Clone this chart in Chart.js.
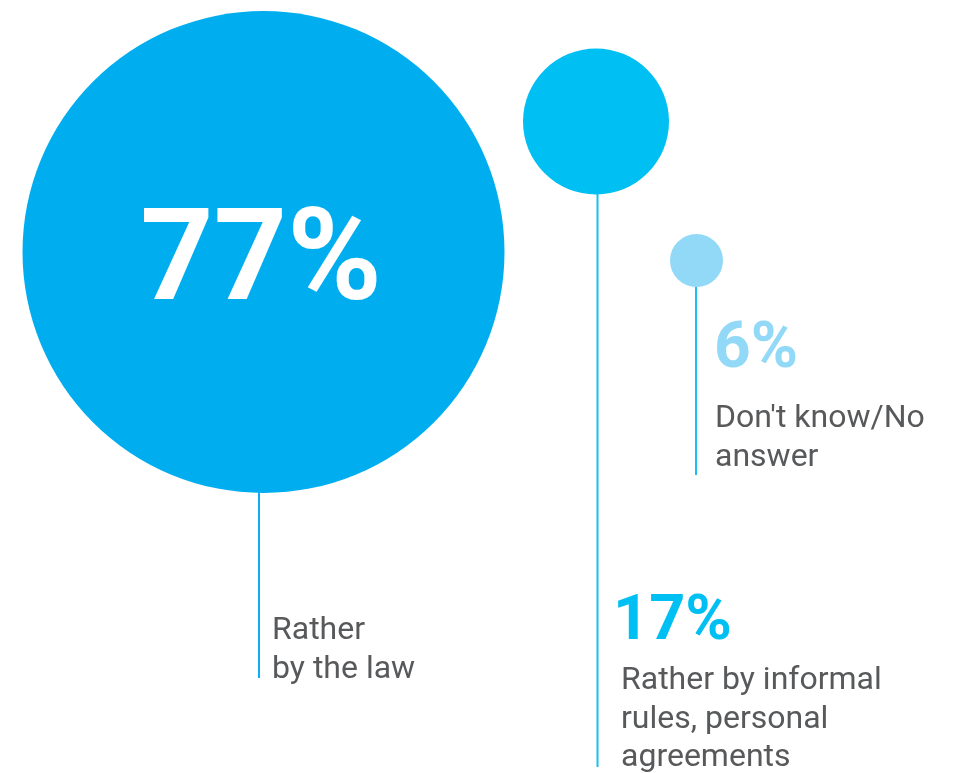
<!DOCTYPE html>
<html>
<head>
<meta charset="utf-8">
<script src="https://cdn.jsdelivr.net/npm/chart.js@4/dist/chart.umd.min.js"></script>
<style>
  html, body { margin: 0; padding: 0; background: #ffffff; }
  #wrap { width: 953px; height: 773px; position: relative; }
</style>
</head>
<body>
<div id="wrap"><canvas id="c" width="953" height="773"></canvas></div>
<script>
// ---- data ----
const categories = ["Rather by the law", "Rather by informal rules, personal agreements", "Don't know/No answer"];
const values = [77, 17, 6];
const labelLines = [["Rather", "by the law"], ["Rather by informal", "rules, personal", "agreements"], ["Don't know/No", "answer"]];

// ---- layout / style (pixel-space on a 953x773 scale) ----
const bubbleCenters = [[263.5, 252], [596, 121.5], [696.5, 260.5]];
const bubbleRadii = [241, 73, 26.5];
const bubbleColors = ["#00AEEF", "#00C0F3", "#92D9F7"];
const stemBottoms = [678, 767, 475];
const stemX = [259, 597.5, 696];
const stemColors = ["#0AB0EF", "#18BFF0", "#18BFF0"];
const pctColors = ["#ffffff", "#00C0F3", "#92D9F7"];
const pctPos = [[261, 299, "center", 128], [613, 639, "left", 63], [714, 367, "left", 64]];
const labelPos = [[272, 639], [621, 689], [715, 427]];
const labelLineHeight = 38.5;
const labelColor = "#58595B";

const stemDatasets = categories.map((c, i) => ({
  type: 'line',
  label: c + ' stem',
  data: [{x: stemX[i], y: bubbleCenters[i][1] + bubbleRadii[i] - 1}, {x: stemX[i], y: stemBottoms[i]}],
  borderColor: stemColors[i],
  borderWidth: 2,
  pointRadius: 0,
  fill: false,
  order: 2
}));

const bubbleDataset = {
  type: 'bubble',
  label: 'Share',
  data: categories.map((c, i) => ({x: bubbleCenters[i][0], y: bubbleCenters[i][1], r: bubbleRadii[i], v: values[i]})),
  backgroundColor: bubbleColors,
  borderWidth: 0,
  hoverRadius: 0,
  order: 1
};

const textPlugin = {
  id: 'textPlugin',
  afterDatasetsDraw(chart) {
    const ctx = chart.ctx;
    const xs = chart.scales.x, ys = chart.scales.y;
    ctx.save();
    values.forEach((v, i) => {
      const p = pctPos[i];
      ctx.fillStyle = pctColors[i];
      ctx.font = "700 " + p[3] + "px Roboto";
      ctx.textAlign = p[2];
      ctx.textBaseline = 'alphabetic';
      ctx.fillText(v + "%", xs.getPixelForValue(p[0]), ys.getPixelForValue(p[1]));
      ctx.fillStyle = labelColor;
      ctx.font = "400 32px Roboto";
      ctx.textAlign = 'left';
      labelLines[i].forEach((ln, j) => {
        ctx.fillText(ln, xs.getPixelForValue(labelPos[i][0]), ys.getPixelForValue(labelPos[i][1] + j * labelLineHeight));
      });
    });
    ctx.restore();
  }
};

new Chart(document.getElementById('c'), {
  data: { datasets: [...stemDatasets, bubbleDataset] },
  options: {
    responsive: false,
    animation: false,
    events: [],
    layout: { padding: 0, autoPadding: false },
    plugins: { legend: { display: false }, tooltip: { enabled: false } },
    scales: {
      x: { type: 'linear', min: 0, max: 953, display: false },
      y: { type: 'linear', min: 0, max: 773, reverse: true, display: false }
    },
    clip: false
  },
  plugins: [textPlugin]
});
</script>
</body>
</html>
